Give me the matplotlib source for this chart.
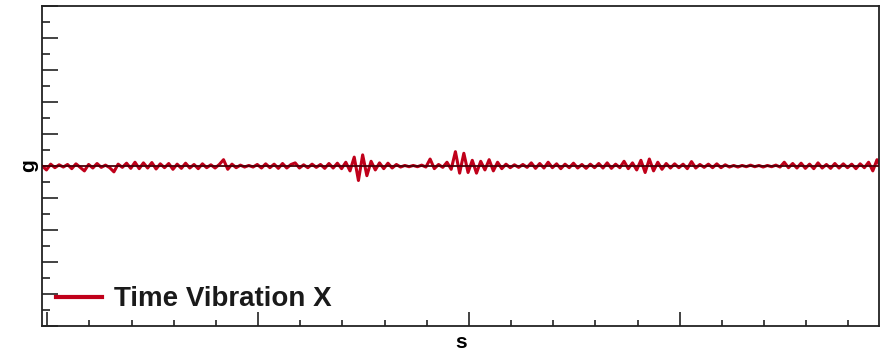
import numpy as np
import matplotlib
matplotlib.use("Agg")
import matplotlib.pyplot as plt
from matplotlib.ticker import MultipleLocator

plt.rcParams['font.family'] = ['Liberation Sans', 'DejaVu Sans']

# acceleration (g), one sample every 0.2 s
seg_00_04 = [0.00, -0.12, 0.06, -0.05, 0.04, -0.03, 0.05, -0.08, 0.07, -0.04,
             -0.15, 0.05, -0.06, 0.08, -0.04, 0.03, -0.05, -0.18, 0.06, -0.04]
seg_04_08 = [0.09, -0.07, 0.12, -0.08, 0.10, -0.06, 0.11, -0.09, 0.07, -0.05,
             0.08, -0.10, 0.06, -0.07, 0.09, -0.06, 0.05, -0.08, 0.07, -0.05]
seg_08_12 = [0.04, -0.06, 0.05, 0.20, -0.10, 0.06, -0.05, 0.03, -0.03, 0.02,
             -0.03, 0.05, -0.06, 0.07, -0.05, 0.06, -0.07, 0.08, -0.06, 0.05]
seg_12_16 = [0.10, -0.06, 0.04, -0.05, 0.06, -0.04, 0.05, -0.07, 0.08, -0.06,
             0.09, -0.08, 0.12, -0.15, 0.28, -0.45, 0.35, -0.30, 0.15, -0.12]
seg_16_20 = [0.10, -0.08, 0.09, -0.06, 0.05, -0.03, 0.02, -0.02, 0.02, -0.02,
             0.03, -0.03, 0.22, -0.08, 0.05, -0.04, 0.12, -0.10, 0.45, -0.22]
seg_20_24 = [0.40, -0.20, 0.18, -0.22, 0.15, -0.12, 0.20, -0.15, 0.12, -0.08,
             0.06, -0.05, 0.04, -0.04, 0.05, -0.04, 0.10, -0.07, 0.08, -0.06]
seg_24_28 = [0.12, -0.05, 0.07, -0.08, 0.06, -0.05, 0.09, -0.06, 0.05, -0.07,
             0.06, -0.05, 0.08, -0.06, 0.10, -0.07, 0.06, -0.05, 0.15, -0.08]
seg_28_32 = [0.10, -0.12, 0.18, -0.20, 0.22, -0.15, 0.12, -0.10, 0.08, -0.06,
             0.07, -0.05, 0.06, -0.08, 0.14, -0.06, 0.05, -0.04, 0.06, -0.05]
seg_32_36 = [0.07, -0.05, 0.04, -0.03, 0.02, -0.03, 0.02, -0.02, 0.03, -0.02,
             0.02, -0.03, 0.02, -0.02, 0.03, -0.03, 0.12, -0.05, 0.08, -0.06]
seg_36_40 = [0.09, -0.07, 0.06, -0.08, 0.10, -0.06, 0.05, -0.07, 0.08, -0.06,
             0.07, -0.05, 0.06, -0.08, 0.07, -0.05, 0.12, -0.15, 0.20, -0.08]

accel_x = np.array(seg_00_04 + seg_04_08 + seg_08_12 + seg_12_16 + seg_16_20
                   + seg_20_24 + seg_24_28 + seg_28_32 + seg_32_36 + seg_36_40)
dt = 0.2
t = np.arange(len(accel_x)) * dt

fig = plt.figure(figsize=(8.8, 3.53), dpi=100)
ax = fig.add_axes([0.048, 0.076, 0.951, 0.907])

ax.plot(t, accel_x, color='#c0001a', lw=2.2, label='Time Vibration X')
ax.axhline(0, color='#4a0008', lw=1.3, zorder=3)

ax.set_xlim(0, 39.7)
ax.set_ylim(-5, 5)
ax.xaxis.set_major_locator(MultipleLocator(10, offset=0.24))
ax.xaxis.set_minor_locator(MultipleLocator(2, offset=0.24))
ax.yaxis.set_major_locator(MultipleLocator(1))
ax.yaxis.set_minor_locator(MultipleLocator(0.5))
ax.tick_params(which='both', direction='in', labelbottom=False, labelleft=False,
               color='#222222', width=1.2)
ax.tick_params(axis='y', which='major', length=11.5)
ax.tick_params(axis='y', which='minor', length=6)
ax.tick_params(axis='x', which='major', length=10)
ax.tick_params(axis='x', which='minor', length=4)
for s in ax.spines.values():
    s.set_linewidth(1.3)
    s.set_color('#222222')

ax.set_xlabel('s', fontsize=15, fontweight='bold', labelpad=5)
ax.set_ylabel('g', fontsize=15, fontweight='bold', labelpad=3)

leg = ax.legend(loc='lower left', frameon=False, handlelength=1.65,
                prop={'size': 20, 'weight': 'bold'}, borderaxespad=0.1,
                handletextpad=0.43)
for h in leg.get_lines():
    h.set_linewidth(3)
for txt in leg.get_texts():
    txt.set_color('#1a1a1a')

fig.savefig('out.png', dpi=100)
